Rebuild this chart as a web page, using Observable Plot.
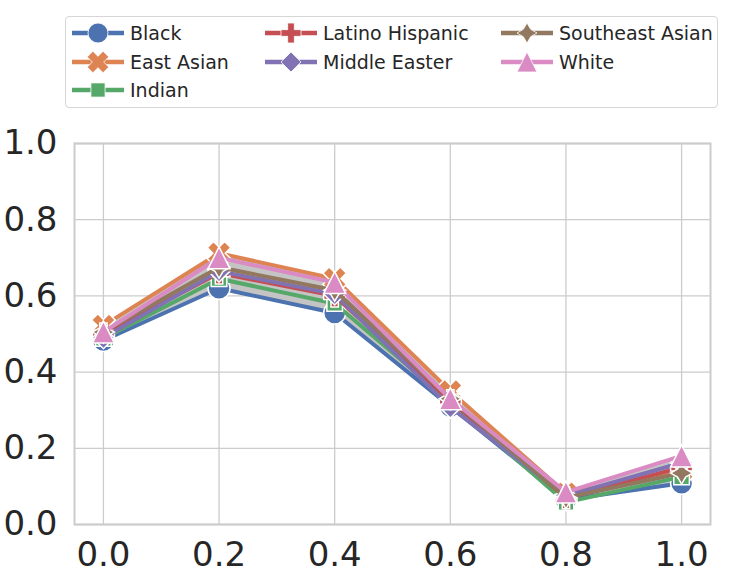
<!DOCTYPE html>
<html><head><meta charset="utf-8">
<script src="https://cdn.jsdelivr.net/npm/d3@7"></script>
<script src="https://cdn.jsdelivr.net/npm/@observablehq/plot@0.6"></script>
<style>
body{margin:0;background:#fff;font-family:"DejaVu Sans",sans-serif;color:#262626;}
#wrap{position:relative;width:747px;height:574px;overflow:hidden;}
#legend{position:absolute;left:65px;top:16px;width:653px;height:92px;border:1.3px solid #d6d6d6;border-radius:4px;box-sizing:border-box;background:#fff;}
#chart{position:absolute;left:0;top:110px;}
.item{position:absolute;height:28px;display:flex;align-items:center;font-size:19px;white-space:nowrap;}
.item svg{margin-right:5px;}
</style></head><body>
<div id="wrap"><div id="legend"></div><div id="chart"></div></div>
<script>
// x positions
const xs = [0.0, 0.2, 0.4, 0.6, 0.8, 1.0];
const races = ["Black", "East Asian", "Indian", "Latino Hispanic", "Middle Easter", "Southeast Asian", "White"];
const black          = [0.483, 0.620, 0.555, 0.310, 0.065, 0.108];
const eastAsian      = [0.522, 0.712, 0.645, 0.350, 0.082, 0.140];
const indian         = [0.488, 0.645, 0.580, 0.322, 0.058, 0.125];
const latinoHispanic = [0.500, 0.660, 0.600, 0.325, 0.070, 0.150];
const middleEastern  = [0.490, 0.665, 0.605, 0.308, 0.075, 0.162];
const southeastAsian = [0.505, 0.675, 0.615, 0.330, 0.070, 0.135];
const white          = [0.505, 0.700, 0.635, 0.330, 0.085, 0.180];
const colors = ["#4c72b0", "#dd8452", "#55a868", "#c44e52", "#8172b3", "#937860", "#da8bc3"];
const xTicks = [0.0, 0.2, 0.4, 0.6, 0.8, 1.0];
const yTicks = [0.0, 0.2, 0.4, 0.6, 0.8, 1.0];

const seriesValues = [black, eastAsian, indian, latinoHispanic, middleEastern, southeastAsian, white];

// custom marker shapes (matplotlib-like), ms = marker diameter
function poly(ctx, pts){ ctx.moveTo(pts[0][0], pts[0][1]); for (let i=1;i<pts.length;i++) ctx.lineTo(pts[i][0], pts[i][1]); ctx.closePath(); }
function msOf(size){ return 2*Math.sqrt(size/Math.PI); }
function plusPts(L, w, ang){
  const base = [[-w,-L],[w,-L],[w,-w],[L,-w],[L,w],[w,w],[w,L],[-w,L],[-w,w],[-L,w],[-L,-w],[-w,-w]];
  const c = Math.cos(ang), s = Math.sin(ang);
  return base.map(([x,y]) => [x*c - y*s, x*s + y*c]);
}
const symCircle = {draw(ctx, size){ const r = msOf(size)/2; ctx.moveTo(r,0); ctx.arc(0,0,r,0,2*Math.PI); ctx.closePath(); }};
const symX = {draw(ctx, size){ const m = msOf(size); poly(ctx, plusPts(0.56*m, 0.2*m, Math.PI/4)); }};
const symSquare = {draw(ctx, size){ const h = 0.354*msOf(size); poly(ctx, [[-h,-h],[h,-h],[h,h],[-h,h]]); }};
const symPlus = {draw(ctx, size){ const m = msOf(size); poly(ctx, plusPts(0.5*m, m/6, 0)); }};
const symDiamond = {draw(ctx, size){ const h = 0.5*msOf(size); poly(ctx, [[0,-h],[h,0],[0,h],[-h,0]]); }};
const symStar = {draw(ctx, size){ const o = 0.5*msOf(size), i = 0.26*msOf(size)*0.7071;
  poly(ctx, [[0,-o],[i,-i],[o,0],[i,i],[0,o],[-i,i],[-o,0],[-i,-i]]); }};
const symTri = {draw(ctx, size){ const h = 0.5*msOf(size); poly(ctx, [[0,-h],[h,h],[-h,h]]); }};
const symbols = [symCircle, symX, symSquare, symPlus, symDiamond, symStar, symTri];

const rows = [];
races.forEach((r, k) => xs.forEach((x, j) => rows.push({race: r, x, y: seriesValues[k][j]})));
const band = xs.map((x, j) => ({x, lo: d3.min(seriesValues, s => s[j]), hi: d3.max(seriesValues, s => s[j])}));

const marks = [
  Plot.gridX(xTicks, {stroke: "#cccccc", strokeOpacity: 1, strokeWidth: 1.3}),
  Plot.gridY(yTicks, {stroke: "#cccccc", strokeOpacity: 1, strokeWidth: 1.3}),
  Plot.frame({stroke: "#cccccc", strokeWidth: 2}),
  Plot.areaY(band, {x: "x", y1: "lo", y2: "hi", fill: "#c4c4c4"})
];
races.forEach((r, k) => {
  const d = rows.filter(o => o.race === r);
  marks.push(Plot.line(d, {x: "x", y: "y", stroke: colors[k], strokeWidth: 4}));
  marks.push(Plot.dot(d, {x: "x", y: "y", fill: colors[k], stroke: "white", strokeWidth: 1.5, r: 11, symbol: symbols[k]}));
});

const chart = Plot.plot({
  width: 747, height: 464,
  marginLeft: 74, marginRight: 37, marginTop: 33, marginBottom: 50,
  style: {fontFamily: "DejaVu Sans", fontSize: "34px", color: "#262626", background: "white", overflow: "visible"},
  x: {domain: [-0.05, 1.05], ticks: xTicks, tickFormat: d3.format(".1f"), tickSize: 0, tickPadding: 17, label: null},
  y: {domain: [0, 1], ticks: yTicks, tickFormat: d3.format(".1f"), tickSize: 0, tickPadding: 17, label: null},
  marks
});
document.getElementById("chart").appendChild(chart);

// legend (column-major, 3 columns: 3 / 2 / 2)
const legend = document.getElementById("legend");
const colX = [5, 198, 434];
const legendCol = [0, 0, 0, 1, 1, 2, 2];
const legendRow = [0, 1, 2, 0, 1, 0, 1];
races.forEach((r, k) => {
  const col = legendCol[k], row = legendRow[k];
  const item = document.createElement("div");
  item.className = "item";
  item.style.left = colX[col] + "px";
  item.style.top = (2 + row * 28.5) + "px";
  const svg = d3.create("svg").attr("width", 54).attr("height", 28);
  svg.append("line").attr("x1", 1).attr("x2", 53).attr("y1", 14).attr("y2", 14).attr("stroke", colors[k]).attr("stroke-width", 4.5);
  svg.append("path").attr("transform", "translate(27,14)")
    .attr("d", d3.symbol(symbols[k], Math.PI * 10 * 10)())
    .attr("fill", colors[k]).attr("stroke", "white").attr("stroke-width", 0.8);
  item.appendChild(svg.node());
  const t = document.createElement("span");
  t.textContent = r;
  item.appendChild(t);
  legend.appendChild(item);
});
</script>
</body></html>
